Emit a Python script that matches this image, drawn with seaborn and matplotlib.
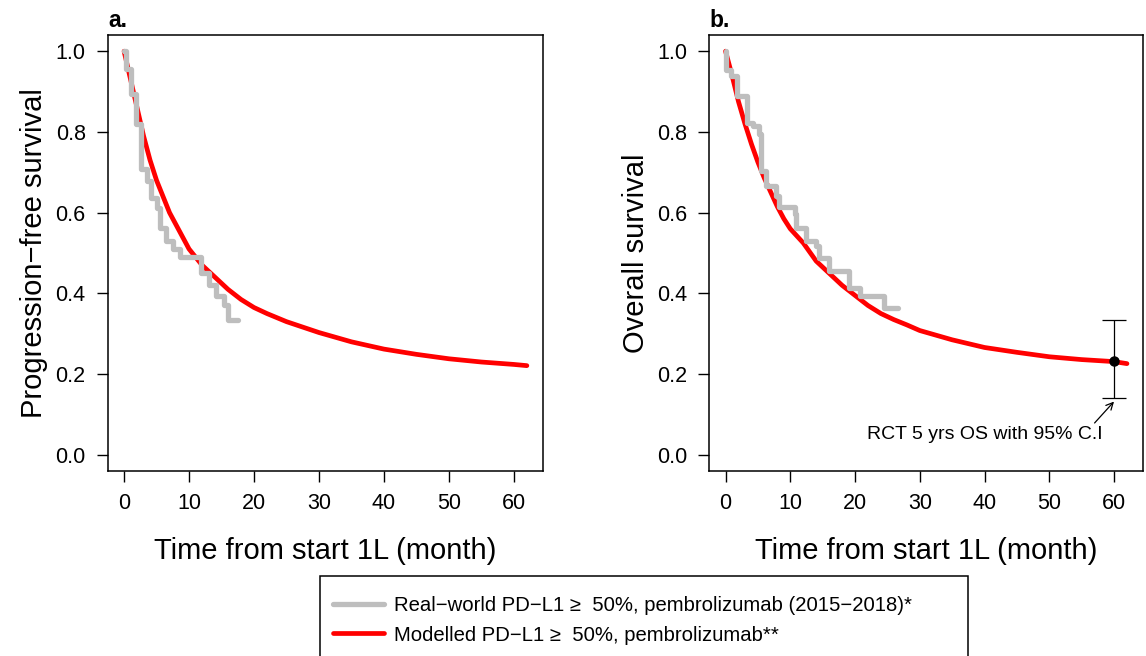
import matplotlib
matplotlib.use("Agg")
import seaborn as sns
import matplotlib.pyplot as plt
from matplotlib.patches import Rectangle

# ---------------- data ----------------
# real-world Kaplan-Meier steps (month, survival)
pfs_km_t = [0, 0.36, 1.12, 1.9, 2.66, 3.6, 4.2, 5.0, 5.6, 6.5, 7.5, 8.55, 11.8, 13.0, 14.2, 15.4, 16.05, 17.6]
pfs_km_s = [1.0, 0.955, 0.893, 0.819, 0.707, 0.678, 0.637, 0.612, 0.562, 0.529, 0.509, 0.49, 0.45, 0.42, 0.393, 0.372, 0.335, 0.335]

os_km_t = [0, 0.1, 0.9, 1.75, 3.3, 4.2, 5.15, 5.5, 6.3, 7.8, 8.3, 10.7, 10.9, 12.45, 14.0, 14.5, 16.05, 19.1, 20.7, 24.5, 26.7]
os_km_s = [1.0, 0.953, 0.939, 0.89, 0.823, 0.815, 0.794, 0.703, 0.666, 0.641, 0.614, 0.596, 0.563, 0.529, 0.517, 0.488, 0.455, 0.414, 0.393, 0.364, 0.364]

# modelled curves
pfs_mod_t = [0, 1, 2, 3, 4, 5, 6, 7, 8, 9, 10, 12, 14, 16, 18, 20, 22, 25, 30, 35, 40, 45, 50, 55, 60, 62]
pfs_mod_s = [1.0, 0.93, 0.86, 0.79, 0.73, 0.68, 0.64, 0.60, 0.57, 0.54, 0.51, 0.47, 0.44, 0.41, 0.385, 0.365,
             0.35, 0.33, 0.303, 0.28, 0.262, 0.249, 0.238, 0.230, 0.224, 0.221]

os_mod_t = [0, 1, 2, 3, 4, 5, 6, 7, 8, 9, 10, 12, 14, 16, 18, 20, 22, 24, 26, 28, 30, 35, 40, 45, 50, 55, 60, 62]
os_mod_s = [1.0, 0.94, 0.875, 0.82, 0.77, 0.725, 0.685, 0.65, 0.615, 0.585, 0.56, 0.525, 0.48, 0.45, 0.42, 0.395,
            0.37, 0.35, 0.335, 0.322, 0.308, 0.285, 0.266, 0.254, 0.243, 0.236, 0.231, 0.226]

# RCT 5-year OS with 95% CI
rct_t = [60]
rct_os = [0.232]
rct_lo = [0.142]
rct_hi = [0.335]

x_ticks = [0, 10, 20, 30, 40, 50, 60]
y_ticks = [0.0, 0.2, 0.4, 0.6, 0.8, 1.0]

lab_rw = "Real\u2212world PD\u2212L1 \u2265  50%, pembrolizumab (2015\u22122018)*"
lab_mod = "Modelled PD\u2212L1 \u2265  50%, pembrolizumab**"

GRAY = "#BEBEBE"
RED = "#FF0000"

sns.set_style("white")
plt.rcParams['font.family'] = ['Liberation Sans', 'DejaVu Sans']
plt.rcParams['text.color'] = 'black'
plt.rcParams['axes.labelcolor'] = 'black'
plt.rcParams['xtick.color'] = 'black'
plt.rcParams['ytick.color'] = 'black'

fig = plt.figure(figsize=(11.46, 6.56), dpi=100)
ax_a = fig.add_axes([0.0942, 0.282, 0.3796, 0.6646])
ax_b = fig.add_axes([0.6191, 0.282, 0.3783, 0.6646])

panels = [
    (ax_a, pfs_km_t, pfs_km_s, pfs_mod_t, pfs_mod_s, "Progression\u2212free survival", "a."),
    (ax_b, os_km_t, os_km_s, os_mod_t, os_mod_s, "Overall survival", "b."),
]

for ax, kt, ks, mt, ms, ylab, tag in panels:
    sns.lineplot(x=mt, y=ms, ax=ax, color=RED, linewidth=3.4, estimator=None, sort=False,
                 solid_capstyle='round', label=lab_mod, zorder=2)
    sns.lineplot(x=kt, y=ks, ax=ax, color=GRAY, linewidth=3.8, estimator=None, sort=False,
                 drawstyle='steps-post', solid_capstyle='round', solid_joinstyle='round',
                 label=lab_rw, zorder=3)
    ax.set_xlim(-2.48, 64.48)
    ax.set_ylim(-0.04, 1.04)
    ax.set_xticks(x_ticks)
    ax.set_yticks(y_ticks)
    ax.set_yticklabels([f"{v:.1f}" for v in y_ticks])
    ax.tick_params(axis='both', direction='out', length=8, width=1, color='black',
                   labelcolor='black', labelsize=15.5, pad=8, left=True, bottom=True)
    for sp in ax.spines.values():
        sp.set_visible(True)
        sp.set_color('black')
        sp.set_linewidth(1.1)
    ax.set_xlabel("Time from start 1L (month)", fontsize=21)
    ax.set_ylabel(ylab, fontsize=21)
    ax.xaxis.set_label_coords(0.5, -0.152)
    ax.yaxis.set_label_coords(-0.138, 0.5)
    ax.text(0.0, 1.008, tag, transform=ax.transAxes, ha='left', va='bottom',
            fontsize=16.5, fontweight='bold')
    ax.get_legend().remove()

# RCT point with CI in panel b
ax_b.errorbar(rct_t, rct_os,
              yerr=[[rct_os[0] - rct_lo[0]], [rct_hi[0] - rct_os[0]]],
              fmt='o', color='black', markersize=6.5, elinewidth=0.9, capsize=8.6,
              capthick=0.9, zorder=4)
ax_b.text(40, 0.040, "RCT 5 yrs OS with 95% C.I", ha='center', va='baseline', fontsize=14)
ax_b.annotate("", xy=(60, 0.132), xytext=(57, 0.079),
              arrowprops=dict(arrowstyle='->,head_length=0.5,head_width=0.25', color='black', lw=0.9,
                              shrinkA=0, shrinkB=0))

# legend under the panels (box runs off the bottom edge like the original)
handles, labels = ax_a.get_legend_handles_labels()
order = [labels.index(lab_rw), labels.index(lab_mod)]
fig.add_artist(Rectangle((320 / 1146, -0.05), (968 - 320) / 1146, 0.05 + (656 - 576) / 656,
                         transform=fig.transFigure, fill=False, edgecolor='black', linewidth=1.1))
fig.legend([handles[i] for i in order], [labels[i] for i in order],
           loc='upper left', bbox_to_anchor=(333 / 1146, 1 - 596 / 656),
           frameon=False, borderpad=0, borderaxespad=0, handlelength=2.5,
           handletextpad=0.5, labelspacing=0.52, fontsize=14.6)

fig.savefig("out.png", dpi=100)
